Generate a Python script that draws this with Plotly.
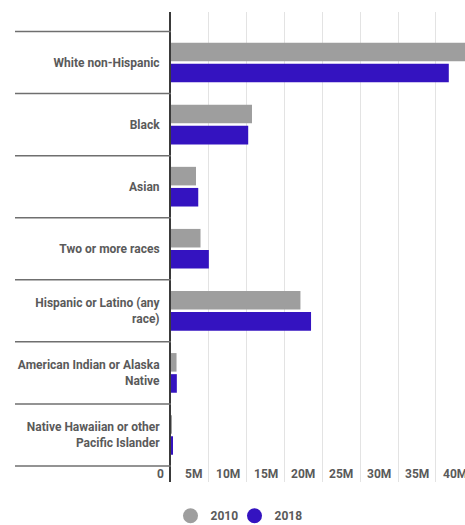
import plotly.graph_objects as go

categories = [
    "White non-Hispanic",
    "Black",
    "Asian",
    "Two or more races",
    "Hispanic or Latino (any<br>race)",
    "American Indian or Alaska<br>Native",
    "Native Hawaiian or other<br>Pacific Islander",
]
values_2010 = [39.7e6, 10.7e6, 3.3e6, 3.9e6, 17.1e6, 0.73e6, 0.12e6]
values_2018 = [36.7e6, 10.2e6, 3.6e6, 5.0e6, 18.5e6, 0.77e6, 0.2e6]
series_names = ["2010", "2018"]
tick_vals = [0, 5e6, 10e6, 15e6, 20e6, 25e6, 30e6, 35e6, 40e6]
tick_labels = ["0", "5M", "10M", "15M", "20M", "25M", "30M", "35M", "40M"]

colors = ["#9E9E9E", "#3413C0"]
label_color = "#5a5a5a"
FONT = "Roboto, 'Open Sans', sans-serif"

W, H = 465, 525
ML, MR, MT, MB = 171, 0, 12, 43
XMAX = 38.84e6
n = len(categories)
row_px = 62.1
pad_top = 19.5 / row_px
pad_bot = 16 / row_px

fig = go.Figure()
for name, vals, col in zip(series_names, [values_2010, values_2018], colors):
    fig.add_trace(go.Bar(
        y=categories, x=vals, orientation="h", name=name,
        marker=dict(color=col, line=dict(width=0)),
        showlegend=False,
    ))
legend_widths = [19, None]
for name, col, lw in zip(series_names, colors, legend_widths):
    fig.add_trace(go.Scatter(
        x=[None], y=[None], mode="markers", name=name,
        marker=dict(color=col, size=15, symbol="circle"),
        legendwidth=lw,
    ))

# category separator lines in label area
plot_w = W - ML - MR
x_left = (15 - ML) / plot_w
for k in range(n + 1):
    fig.add_shape(type="line", xref="paper", yref="y",
                  x0=x_left, x1=0, y0=k - 0.5, y1=k - 0.5,
                  line=dict(color="#6f6f6f", width=1.5), layer="above")

# x tick labels (right-aligned left of each gridline)
for v, t in zip(tick_vals, tick_labels):
    fig.add_annotation(xref="paper", yref="paper", x=v / XMAX, y=0.016,
                       text=t, showarrow=False, xanchor="right", yanchor="middle",
                       xshift=-5,
                       font=dict(family=FONT, size=12, color=label_color, weight="bold"))

fig.update_layout(
    width=W, height=H,
    margin=dict(l=ML, r=MR, t=MT, b=MB, pad=0),
    paper_bgcolor="white", plot_bgcolor="white",
    barmode="group", bargap=0.32, bargroupgap=0.12,
    font=dict(family=FONT, size=12, color=label_color, weight="bold"),
    xaxis=dict(range=[0, XMAX], tickvals=tick_vals[1:], showticklabels=False,
               showgrid=True, gridcolor="#e3e3e3", gridwidth=1,
               zeroline=False, showline=False, ticks=""),
    yaxis=dict(type="category", categoryorder="array", categoryarray=categories,
               range=[n - 0.5 + pad_bot, -0.5 - pad_top],
               showgrid=False, zeroline=False, showline=True,
               linecolor="#3a3a3a", linewidth=2, ticks="",
               ticklabelstandoff=7,
               tickfont=dict(family=FONT, size=12, color=label_color, weight="bold")),
    legend=dict(orientation="h", xref="container", yref="container",
                x=239 / W, xanchor="center", y=9.3 / H, yanchor="middle",
                font=dict(family=FONT, size=12, color=label_color, weight="bold"),
                itemclick=False),
    showlegend=True,
)

fig.write_html(
    "out.html",
    config={"displayModeBar": False},
    post_script="document.body.style.margin='0';document.body.style.overflow='hidden';",
)
